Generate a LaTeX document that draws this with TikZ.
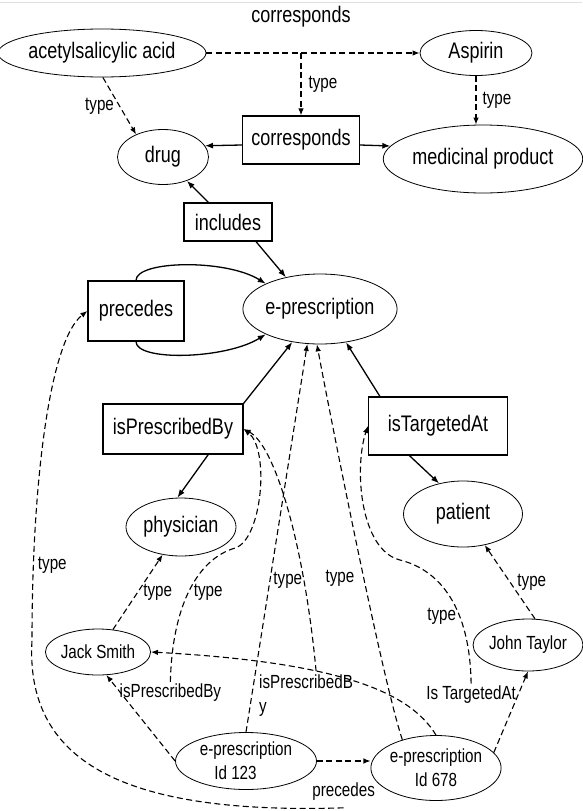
\documentclass[tikz,border=0pt]{standalone}
\usepackage{fontspec}
\setmainfont{Liberation Sans}[FakeStretch=0.8]
\usepackage{tikz}
\usetikzlibrary{arrows.meta,shapes.geometric}

\newcommand{\bigtxt}{\fontsize{22.5}{25}\selectfont}
\newcommand{\smalltxt}{\fontsize{19}{24}\selectfont}

\begin{document}
\begin{tikzpicture}[x=1pt,y=-1pt,every node/.style={font=\bigtxt},
    cls/.style={draw,ellipse,line width=0.8pt,inner sep=0pt},
    inst/.style={cls,font=\smalltxt,align=center},
    rel/.style={draw,rectangle,line width=1.2pt,inner sep=0pt},
    lbl/.style={font=\smalltxt,inner sep=1pt},
    arr/.style={-{Latex[length=8pt,width=6pt]},line width=1.3pt},
    darr/.style={-{Latex[length=7pt,width=5.5pt]},line width=1.1pt,dash pattern=on 6pt off 3.5pt}]
  \useasboundingbox (0,0) rectangle (582,811);
  \draw[black!12,line width=0.8pt] (0,2.5) -- (582,2.5);

  % schema level
  \node (corrlbl) at (301,17) {corresponds};
  \node[cls,minimum width=187pt,minimum height=48pt] (acid) at (102,53) {acetylsalicylic acid};
  \node[cls,minimum width=112pt,minimum height=45pt] (asp) at (476,53) {Aspirin};
  \node[rel,minimum width=117pt,minimum height=48pt] (corr) at (301,140) {corresponds};
  \node[cls,minimum width=91pt,minimum height=55pt] (drug) at (163,157) {drug};
  \node[cls,minimum width=172pt,minimum height=68pt] (med) at (483,159) {medicinal product};
  \node[rel,minimum width=88pt,minimum height=38pt] (incl) at (228,222) {includes};
  \node[rel,minimum width=96pt,minimum height=60pt] (prec) at (136,311) {precedes};
  \node[cls,minimum width=140pt,minimum height=70pt] (ep) at (320,309) {e-prescription};
  \node[rel,minimum width=140pt,minimum height=50pt] (isPB) at (173,429) {isPrescribedBy};
  \node[rel,minimum width=139pt,minimum height=58pt] (isTA) at (438,426) {isTargetedAt};
  \node[cls,minimum width=110pt,minimum height=58pt] (phys) at (181,527) {physician};
  \node[cls,minimum width=119pt,minimum height=66pt] (pat) at (463,514) {patient};

  % instance level
  \node[inst,minimum width=97pt,minimum height=46pt] (jack) at (98,652) {Jack Smith};
  \node[inst,minimum width=103pt,minimum height=52pt] (john) at (528,645) {John Taylor};
  \node[inst,minimum width=141pt,minimum height=57pt] (ep123) at (246,761)
       {e-prescription\\Id 123\hspace*{21pt}};
  \node[inst,minimum width=124pt,minimum height=65pt] (ep678) at (436,768)
       {e-prescription\\Id 678};

  \coordinate (cm) at (corrlbl |- acid);
  \draw[darr] (acid) -- (asp);
  \draw[darr] (cm) -- node[lbl,right=6pt]{type} (corr);
  \draw[darr] (acid.-88) -- node[lbl,left=4pt]{type} (drug.140);
  \draw[darr] (asp.south) -- node[lbl,right=5pt]{type} (asp.south |- med.north);
  \draw[arr] ([yshift=-5pt]corr.west) -- (drug.15);
  \draw[arr] ([yshift=-5pt]corr.east) -- (med.172);
  \draw[arr] (incl) -- (drug);
  \draw[arr] (incl.-35) -- (ep.137);
  \draw[arr] (prec.north) .. controls +(0,-20) and +(-40,-25) .. (ep.155);
  \draw[arr] (prec.south) .. controls +(0,20) and +(-40,25) .. (ep.205);
  \draw[arr] (isPB.north east) -- (ep.230);
  \draw[arr] (isTA.153) -- (ep.-52);
  \draw[arr] (isPB.-36) -- (phys.97);
  \draw[arr] (isTA.-134) -- (pat.128);

  \draw[darr] (jack) -- node[lbl,right=4pt]{type} (phys);
  \draw[darr] (john.75) -- node[lbl,right=6pt]{type} (pat.-55);
  \draw[darr] (ep123.east) -- node[lbl,below=20pt] (precl) {precedes} (ep678.west |- ep123.east);
  \draw[darr] (ep123.west) -- node[lbl,pos=0.8,right=-2pt] (ipbl) {isPrescribedBy} (jack.-70);
  \draw[darr] (ep678.15) -- node[lbl,pos=0.72,left=1pt] (ital) {Is TargetedAt} (john.south);
  \draw[darr] (ep678.north) .. controls +(-27,-45) and +(183,10) .. (jack.east)
       coordinate[pos=0.62] (pb2);
  \node[lbl,align=left,anchor=north west] (ipbl2) at (258,674) {isPrescribedB\\y};

  % types of the statements
  \draw[darr] ([yshift=-6pt]precl.south) .. controls (120,815) and (25,760) .. (32,640)
       .. controls (32,480) and (50,340) .. (prec.west) node[lbl,pos=0.16,right=3pt]{type};
  \draw[darr] (ipbl.north) .. controls (172,610) and (195,560) .. (235,548)
       node[lbl,pos=0.5,right=4pt]{type}
       .. controls (262,540) and (270,450) .. (isPB.east);
  \draw[darr] (pb2) .. controls +(-12,-128) and +(31,16) .. (isPB.east);
  \draw[darr] (ep123.north) -- node[lbl,pos=0.39,right=2pt]{type} (ep.250);
  \draw[darr] (ep678.140) .. controls +(-20,-60) and +(15,80) .. (ep.265)
       node[lbl,pos=0.44,left=8pt]{type};
  \draw[darr] (ital.north) .. controls +(-1,-76) and +(40,10) .. (400,560)
       node[lbl,pos=0.36,left=2pt]{type}
       .. controls +(-40,-10) and +(-14,42) .. (isTA.west);
\end{tikzpicture}
\end{document}
